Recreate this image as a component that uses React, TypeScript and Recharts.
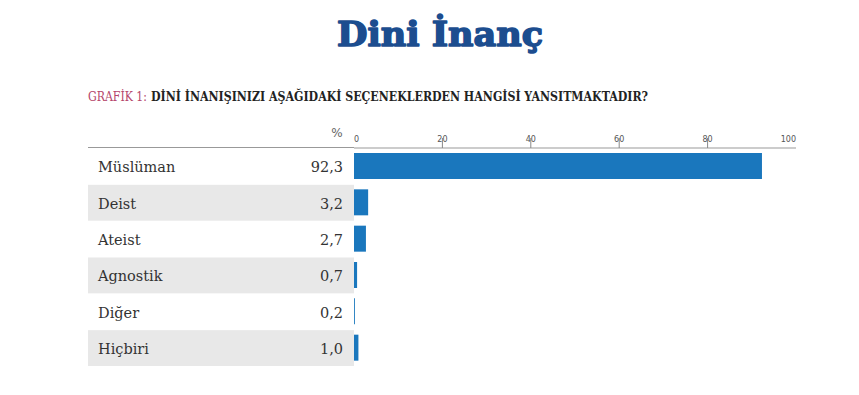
import React from 'react';
import { BarChart, Bar, XAxis, YAxis } from 'recharts';

const categories = ['Müslüman', 'Deist', 'Ateist', 'Agnostik', 'Diğer', 'Hiçbiri'];
const values = [92.3, 3.2, 2.7, 0.7, 0.2, 1.0];
const xTicks = [0, 20, 40, 60, 80, 100];

const titleText = 'Dini İnanç';
const subtitlePrefix = 'GRAFİK 1:';
const subtitleText = 'DİNİ İNANIŞINIZI AŞAĞIDAKİ SEÇENEKLERDEN HANGİSİ YANSITMAKTADIR?';

const data = categories.map((name, i) => ({ name, value: values[i] }));

const W = 859;
const H = 395;
const BAND = (366 - 148) / categories.length;

const fmt = (v: number) => v.toFixed(1).replace('.', ',');

const YTick = (props: any) => {
  const { x, y, payload } = props;
  const idx = payload.index ?? categories.indexOf(payload.value);
  const v = values[idx];
  return (
    <g>
      {idx % 2 === 1 && (
        <rect x={x - 255} y={y - BAND / 2 + 0.5} width={266} height={BAND - 0.5} fill="#e8e8e8" />
      )}
      {idx === 0 && (
        <line x1={x - 255} x2={x + 11} y1={y - BAND / 2 - 0.5} y2={y - BAND / 2 - 0.5} stroke="#999" strokeWidth={1} />
      )}
      <text x={x - 245} y={y} dy={6} fontFamily="DejaVu Serif" fontSize={14.5} fill="#333">
        {payload.value}
      </text>
      <text x={x} y={y} dy={6} textAnchor="end" fontFamily="DejaVu Serif" fontSize={14.5} fill="#333">
        {fmt(v)}
      </text>
    </g>
  );
};

const XTick = (props: any) => {
  const { x, y, payload, index } = props;
  const anchor = index === 0 ? 'start' : index === xTicks.length - 1 ? 'end' : 'middle';
  const showMark = index !== 0 && index !== xTicks.length - 1;
  return (
    <g>
      {showMark && <line x1={x} x2={x} y1={y - 10} y2={y} stroke="#888" strokeWidth={1} />}
      <text x={x} y={y - 6} textAnchor={anchor} fontFamily="DejaVu Sans" fontSize={8} fill="#555">
        {payload.value}
      </text>
    </g>
  );
};

export default function App() {
  return (
    <div style={{ position: 'absolute', left: 0, top: 0, width: W, height: H, background: '#fff' }}>
      <svg width={W} height={H} style={{ position: 'absolute', left: 0, top: 0 }}>
        <text x={440} y={46} textAnchor="middle" fontFamily="DejaVu Serif" fontWeight="bold" fontSize={34}
          fill="#1c4d8f" stroke="#1c4d8f" strokeWidth={1.6} strokeLinejoin="round"
          textLength={206} lengthAdjust="spacingAndGlyphs">
          {titleText}
        </text>
        <text x={88} y={101} fontFamily="DejaVu Serif Condensed, DejaVu Serif" fontSize={12.5} fill="#b5456b"
          textLength={59} lengthAdjust="spacingAndGlyphs">
          {subtitlePrefix}
        </text>
        <text x={151} y={101} fontFamily="DejaVu Serif Condensed, DejaVu Serif" fontWeight="bold" fontSize={12.5}
          fill="#222" textLength={497} lengthAdjust="spacingAndGlyphs">
          {subtitleText}
        </text>
        <text x={337} y={137} textAnchor="middle" fontFamily="DejaVu Sans" fontSize={12} fill="#666">%</text>
      </svg>
      <div style={{ position: 'absolute', left: 0, top: 0 }}>
        <BarChart
          width={W}
          height={H}
          data={data}
          layout="vertical"
          margin={{ top: 118, right: 63, bottom: 29, left: 0 }}
        >
          <XAxis
            type="number"
            orientation="top"
            domain={[0, 100]}
            ticks={xTicks}
            height={30}
            tickSize={0}
            tickMargin={0}
            tickLine={false}
            axisLine={{ stroke: '#999' }}
            tick={<XTick />}
            interval={0}
          />
          <YAxis
            type="category"
            dataKey="name"
            width={354}
            axisLine={false}
            tickLine={false}
            tickSize={0}
            tickMargin={11}
            interval={0}
            tick={<YTick />}
          />
          <Bar dataKey="value" fill="#1a77bd" barSize={26} isAnimationActive={false} />
        </BarChart>
      </div>
    </div>
  );
}
